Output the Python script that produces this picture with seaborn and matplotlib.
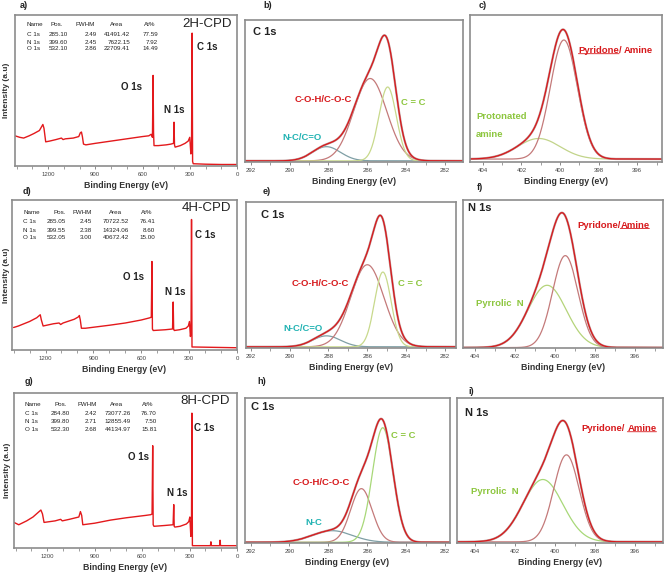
import matplotlib
matplotlib.use('Agg')
import matplotlib.pyplot as plt
import numpy as np
import seaborn as sns

sns.set_style('ticks')
plt.rcParams['font.family'] = ['Liberation Sans', 'DejaVu Sans']

W, H = 671, 580

# ---------------- survey spectra: binding energy (eV) / intensity (% of axis) ----------------
survey_be_2h = [1410, 1380, 1355, 1320, 1290, 1255, 1233, 1226, 1215, 1190, 1150, 1115, 1105, 1090, 1040,
                1005, 995, 988, 982, 975, 960, 900, 800, 700, 600, 560, 545, 537, 533, 530,
                527, 500, 450, 420, 403, 400, 397, 393, 360, 330, 310, 300, 293, 289, 285,
                282, 278, 200, 100, 0]
survey_int_2h = [20, 19, 18.5, 20, 21.5, 23.5, 27.5, 25, 16, 16.5, 17.5, 18.5, 17.5, 18, 18.5,
                 19.5, 22, 22.5, 19.5, 14.5, 14, 15, 16.5, 18, 19.5, 20, 21, 19, 60, 22,
                 13.5, 13.5, 14, 14.5, 15, 29, 14, 12.5, 13.5, 15, 16.5, 19, 8, 10, 88,
                 3, 1.5, 1.2, 1, 1]

survey_be_4h = [1400, 1370, 1300, 1255, 1233, 1226, 1215, 1150, 1115, 1105, 1090, 1020, 995, 988, 982,
                975, 950, 800, 700, 600, 545, 537, 533, 530, 525, 450, 404, 400, 397, 393,
                360, 320, 305, 298, 292, 288, 285, 282, 270, 0]
survey_int_4h = [15, 16, 19, 21.5, 23.5, 20, 16, 17.5, 18, 17, 18, 20.5, 22, 23, 20,
                 14.5, 14.5, 16.5, 18, 20, 21.5, 22, 59, 14, 13, 13.5, 14, 32, 14, 13,
                 13.5, 14.5, 16, 19, 9, 12, 87, 2, 2, 1.5]

survey_be_8h = [1410, 1380, 1330, 1290, 1240, 1230, 1220, 1150, 1115, 1105, 1060, 1000, 990, 982, 975,
                900, 800, 700, 580, 545, 537, 533, 530, 525, 460, 404, 400, 397, 393, 360,
                320, 305, 298, 292, 288, 285, 282, 200, 168, 165, 162, 110, 107, 104, 0]
survey_int_8h = [16.5, 15, 17.5, 20, 24.5, 22, 16.5, 17.5, 18.5, 17.5, 18.5, 20, 23.5, 21, 15,
                 16, 18, 19.5, 21, 21.5, 22, 66, 15, 14, 14.5, 15, 28, 14, 13.5, 14,
                 15.5, 17, 20, 7.5, 10, 87, 1.5, 1.5, 1.5, 4, 1.5, 1.5, 5, 1.5, 1.5]

# quantification tables (Pos., FWHM, Area, At%)
table_header = ['Name', 'Pos.', 'FWHM', 'Area', 'At%']
table_names = ['C 1s', 'N 1s', 'O 1s']
table_2h = [[285.10, 2.49, 41491.42, 77.59], [399.60, 2.45, 7622.15, 7.92], [532.10, 2.86, 22709.41, 14.49]]
table_4h = [[285.05, 2.45, 70722.52, 76.41], [399.55, 2.38, 14324.06, 8.60], [532.05, 3.00, 40672.42, 15.00]]
table_8h = [[284.80, 2.42, 73077.26, 76.70], [399.80, 2.71, 12855.49, 7.50], [532.30, 2.68, 44134.97, 15.81]]

# ---------------- fitted components: centre (eV), FWHM (eV), height (fraction of axis) ----------------
# C 1s order: N-C/C=O, C-O-H/C-O-C, C=C
c1s_2h_centre = [288.1, 285.85, 284.95]
c1s_2h_fwhm = [1.7, 2.0, 1.05]
c1s_2h_height = [0.10, 0.58, 0.52]
c1s_4h_centre = [288.1, 286.0, 285.2]
c1s_4h_fwhm = [1.7, 2.0, 1.0]
c1s_4h_height = [0.075, 0.56, 0.51]
c1s_8h_centre = [287.8, 286.3, 285.2]
c1s_8h_fwhm = [2.4, 1.3, 1.25]
c1s_8h_height = [0.08, 0.37, 0.79]
# N 1s order: protonated amine / pyrrolic N, pyridone/amine
n1s_2h_centre = [401.1, 399.8]
n1s_2h_fwhm = [2.6, 1.65]
n1s_2h_height = [0.14, 0.81]
n1s_4h_centre = [400.38, 399.47]
n1s_4h_fwhm = [2.25, 1.5]
n1s_4h_height = [0.42, 0.62]
n1s_8h_centre = [400.6, 399.42]
n1s_8h_fwhm = [2.35, 1.5]
n1s_8h_height = [0.43, 0.60]

RED = '#d7191c'
GREEN = '#8dc63f'
TEAL = '#22b3b3'
DARK = '#222222'

fig = plt.figure(figsize=(W / 100, H / 100), dpi=100)


def px_rect(l, t, r, b):
    return [l / W, 1 - b / H, (r - l) / W, (b - t) / H]


def style_frame(ax):
    for s in ax.spines.values():
        s.set_color('#8c8c8c')
        s.set_linewidth(1.2)
    ax.set_yticks([])
    ax.set_ylabel('')
    ax.tick_params(axis='x', which='major', direction='out', length=2.5, width=0.6, color='#777777',
                   labelsize=4.3, labelcolor='#444444', pad=1.5)
    ax.tick_params(axis='x', which='minor', direction='out', length=1.8, width=0.5, color='#777777')
    ax.set_xlabel('Binding Energy (eV)', fontsize=6.3, fontweight='bold', color='#333333', labelpad=3)


def gauss(x, c, w, h):
    return h * np.exp(-4 * np.log(2) * (x - c) ** 2 / w ** 2)


def survey(rect, be, inten, table, sample, col_x, val_x, rows_y, lab_pos, ypad=3.5):
    ax = fig.add_axes(rect)
    sns.lineplot(x=be, y=inten, ax=ax, color='#e3191c', lw=1.0, estimator=None, sort=False)
    ax.set_xlim(1410, 0)
    ax.set_ylim(0, 100)
    ax.set_xticks([1200, 900, 600, 300, 0])
    ax.set_xticks(np.arange(0, 1401, 100), minor=True)
    style_frame(ax)
    ax.set_ylabel('Intensity (a.u)', fontsize=6.0, fontweight='bold', color='#333333', labelpad=ypad)
    # table
    for j, h in enumerate(table_header):
        ha = 'left' if j == 0 else 'center'
        ax.text(col_x[j], rows_y[0], h, transform=ax.transAxes, fontsize=4.5, ha=ha, va='center', color=DARK)
    for i, name in enumerate(table_names):
        y = rows_y[i + 1]
        ax.text(col_x[0], y, name, transform=ax.transAxes, fontsize=4.5, ha='left', va='center', color=DARK)
        for j, v in enumerate(table[i]):
            ax.text(val_x[j], y, f'{v:.2f}', transform=ax.transAxes, fontsize=4.5, ha='right',
                    va='center', color=DARK)
    ax.text(lab_pos[0][0], lab_pos[0][1], sample, transform=ax.transAxes, fontsize=9.5, ha='center',
            va='center', color=DARK)
    for (x, y), t in zip(lab_pos[1:], ['C 1s', 'O 1s', 'N 1s']):
        ax.text(x, y, t, transform=ax.transAxes, fontsize=7, fontweight='bold', ha='center', va='center',
                color=DARK)
    return ax


def detail(rect, xlim, centres, fwhms, heights, comp_colors, base, title=None, title_pos=None):
    ax = fig.add_axes(rect)
    x = np.linspace(xlim[1], xlim[0], 500)
    env = np.full_like(x, base)
    for c, w, h, col in zip(centres, fwhms, heights, comp_colors):
        comp = gauss(x, c, w, h)
        env = env + comp
        sns.lineplot(x=x, y=base + comp, ax=ax, color=col, lw=0.9, estimator=None, sort=False)
    sns.lineplot(x=x, y=env, ax=ax, color='#c09a9a', lw=1.6, estimator=None, sort=False)
    sns.lineplot(x=x, y=env, ax=ax, color=RED, lw=0.9, estimator=None, sort=False)
    ax.set_xlim(xlim)
    ax.set_ylim(0, 1)
    lo = int(np.ceil(min(xlim)))
    hi = int(np.floor(max(xlim)))
    ax.set_xticks([v for v in range(lo, hi + 1) if v % 2 == 0])
    ax.set_xticks(list(range(lo, hi + 1)), minor=True)
    style_frame(ax)
    if title:
        ax.text(title_pos[0], title_pos[1], title, transform=ax.transAxes, fontsize=8, fontweight='bold',
                ha='left', va='center', color=DARK)
    return ax


def underlined(ax, x, y, parts, color, size=6.8):
    # parts: (text, underline, gap before in points)
    prev = None
    for txt, ul, gap in parts:
        if prev is None:
            t = ax.text(x, y, txt, color=color, fontsize=size, fontweight='bold', ha='left', va='center')
        else:
            t = ax.annotate(txt, xy=(1, 0), xycoords=prev, xytext=(gap, 0),
                            textcoords='offset points', ha='left', va='bottom', color=color,
                            fontsize=size, fontweight='bold')
        if ul:
            ax.annotate('', xy=(0, 0.12), xycoords=t, xytext=(1, 0.12), textcoords=t,
                        arrowprops=dict(arrowstyle='-', color=color, lw=0.6, shrinkA=0, shrinkB=0))
        prev = t


def label(ax, x, y, txt, color, size=6.8, ha='center'):
    ax.text(x, y, txt, color=color, fontsize=size, fontweight='bold', ha=ha, va='center')


# ---------------- row 1 ----------------
survey(px_rect(15, 15, 237, 166), survey_be_2h, survey_int_2h, table_2h, '2H-CPD',
       [0.053, 0.189, 0.315, 0.459, 0.608], [0.239, 0.369, 0.518, 0.644],
       [0.934, 0.874, 0.821, 0.775],
       [(0.865, 0.94), (0.865, 0.788), (0.527, 0.523), (0.716, 0.371)])

ax_b = detail(px_rect(245, 20, 462.7, 162), (292.29, 281.09), c1s_2h_centre, c1s_2h_fwhm, c1s_2h_height,
              ['#7f9fa5', '#c47a7a', '#c8d98c'], 0.008, 'C 1s', (0.035, 0.913))
label(ax_b, 288.24, 0.44, 'C-O-H/C-O-C', RED)
label(ax_b, 283.63, 0.416, 'C = C', GREEN)
label(ax_b, 289.34, 0.17, 'N-C/C=O', TEAL)

ax_c = detail(px_rect(470, 15, 662, 162), (404.66, 394.72), n1s_2h_centre, n1s_2h_fwhm, n1s_2h_height,
              ['#c2d48a', '#c47a7a'], 0.02)
underlined(ax_c, 399.05, 0.76, [('Pyridone', True, 0), ('/', False, 0), ('Amine', False, 1.8)], RED)
label(ax_c, 404.35, 0.312, 'Protonated', GREEN, ha='left')
label(ax_c, 404.35, 0.187, 'amine', GREEN, ha='left')

# ---------------- row 2 ----------------
survey(px_rect(12, 200, 237, 350), survey_be_4h, survey_int_4h, table_4h, '4H-CPD',
       [0.05, 0.21, 0.31, 0.458, 0.599], [0.24, 0.354, 0.52, 0.636],
       [0.915, 0.855, 0.80, 0.749],
       [(0.865, 0.945), (0.858, 0.767), (0.539, 0.485), (0.724, 0.389)], ypad=1.2)

ax_e = detail(px_rect(246, 201.7, 456, 348.3), (292.24, 281.44), c1s_4h_centre, c1s_4h_fwhm, c1s_4h_height,
              ['#7f9fa5', '#c47a7a', '#c8d98c'], 0.01, 'C 1s', (0.07, 0.909))
label(ax_e, 288.41, 0.443, 'C-O-H/C-O-C', RED)
label(ax_e, 283.8, 0.443, 'C = C', GREEN)
label(ax_e, 289.3, 0.132, 'N-C/C=O', TEAL)

ax_f = detail(px_rect(462.7, 200, 662.7, 348.3), (404.6, 394.6), n1s_4h_centre, n1s_4h_fwhm, n1s_4h_height,
              ['#b5d47a', '#c47a7a'], 0.005, 'N 1s', (0.028, 0.944))
underlined(ax_f, 398.89, 0.831, [('Pyridone/', False, 0), ('Amine', True, 0)], RED)
label(ax_f, 402.75, 0.303, 'Pyrrolic  N', GREEN)

# ---------------- row 3 ----------------
survey(px_rect(14, 393, 237, 548), survey_be_8h, survey_int_8h, table_8h, '8H-CPD',
       [0.049, 0.209, 0.326, 0.46, 0.60], [0.251, 0.374, 0.525, 0.64],
       [0.923, 0.865, 0.815, 0.766],
       [(0.857, 0.95), (0.855, 0.772), (0.557, 0.585), (0.734, 0.353)], ypad=2.5)

ax_h = detail(px_rect(245, 398.3, 450, 543.3), (292.29, 281.74), c1s_8h_centre, c1s_8h_fwhm, c1s_8h_height,
              ['#7f9fa5', '#c47a7a', '#a8d878'], 0.007, 'C 1s', (0.028, 0.942))
label(ax_h, 288.37, 0.418, 'C-O-H/C-O-C', RED)
label(ax_h, 284.14, 0.74, 'C = C', GREEN)
label(ax_h, 288.75, 0.143, 'N-C', TEAL)

ax_i = detail(px_rect(456.7, 398.3, 663, 543.3), (404.9, 394.6), n1s_8h_centre, n1s_8h_fwhm, n1s_8h_height,
              ['#a8d878', '#c47a7a'], 0.01, 'N 1s', (0.04, 0.897))
underlined(ax_i, 398.67, 0.793, [('Pyridone/', False, 0), ('Amine', True, 1.8)], RED)
label(ax_i, 403.0, 0.356, 'Pyrrolic  N', GREEN)

# ---------------- panel letters ----------------
for t, (px, py) in zip('abcdefghi', [(24, 6), (268, 6), (483, 5), (27, 191), (267, 191), (480, 188),
                                     (29, 382), (262, 382), (471, 392)]):
    fig.text(px / W, 1 - py / H, t + ')', fontsize=6.5, fontweight='bold', color=DARK, ha='center', va='center')

fig.savefig('out.png', dpi=100)
